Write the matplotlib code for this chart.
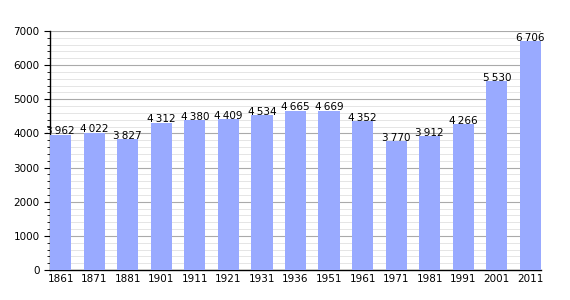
import matplotlib.pyplot as plt
import numpy as np
from matplotlib.ticker import MultipleLocator

years = ['1861', '1871', '1881', '1901', '1911', '1921', '1931', '1936',
         '1951', '1961', '1971', '1981', '1991', '2001', '2011']
population = [3962, 4022, 3827, 4312, 4380, 4409, 4534, 4665,
              4669, 4352, 3770, 3912, 4266, 5530, 6706]

fig = plt.figure(figsize=(5.7, 3.0), dpi=100)
ax = fig.add_axes([50 / 570, 30 / 300, 491 / 570, 239 / 300])

x = np.arange(len(years))
w = 0.63
ax.bar(x, population, width=w, color='#99aaff', zorder=3)

for xi, v in zip(x, population):
    s = f"{v:,}".replace(',', '\u2009')
    ax.text(xi, v - 45, s, ha='center', va='bottom', fontsize=7.5,
            color='black', zorder=4)

ax.set_xlim(-w / 2, len(years) - 1 + w / 2)
ax.set_ylim(0, 7000)
ax.set_xticks(x)
ax.set_xticklabels(years, fontsize=7.5)
ax.yaxis.set_major_locator(MultipleLocator(1000))
ax.yaxis.set_minor_locator(MultipleLocator(200))
ax.tick_params(axis='y', labelsize=7.5, length=4, width=0.8)
ax.tick_params(axis='y', which='minor', length=2, width=0.6)
ax.tick_params(axis='x', length=0, pad=3)

ax.grid(axis='y', which='major', color='#aaaaaa', linewidth=0.8, zorder=0)
ax.grid(axis='y', which='minor', color='#e0e0e0', linewidth=0.6, zorder=0)
for sp in ['top', 'right']:
    ax.spines[sp].set_visible(False)
ax.spines['left'].set_linewidth(1.0)
ax.spines['bottom'].set_linewidth(1.0)

fig.savefig('out.png', dpi=100)
